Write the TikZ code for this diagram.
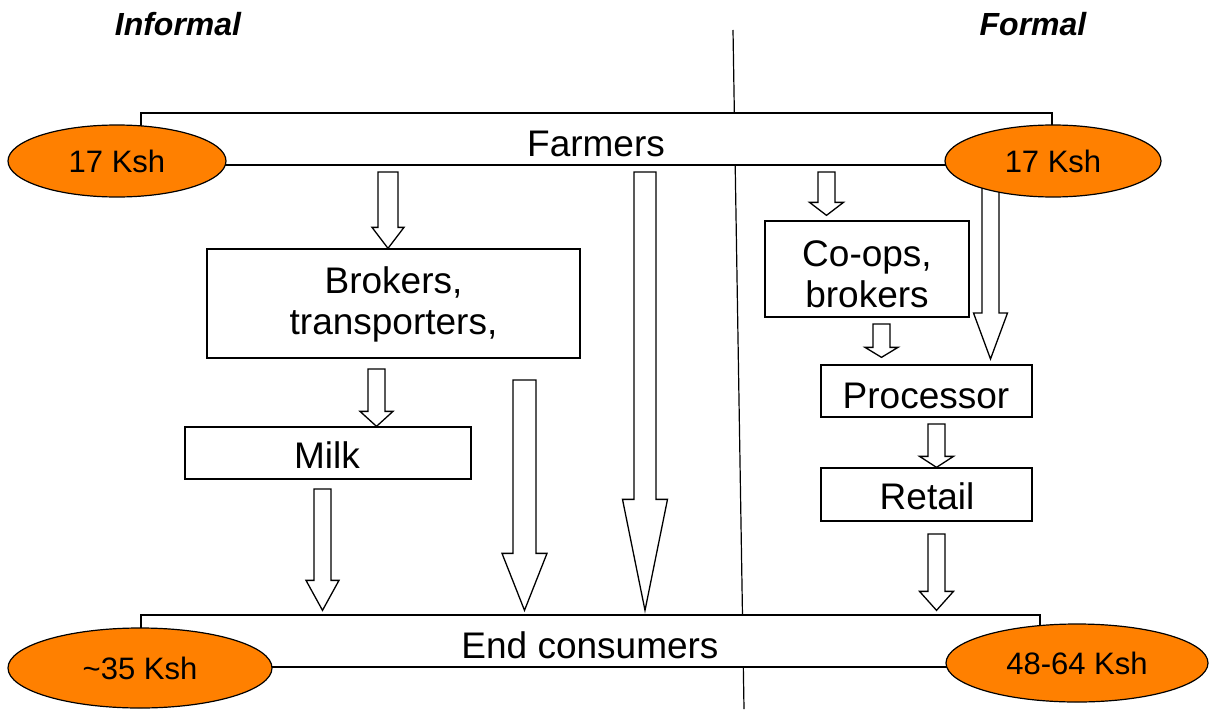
\documentclass[tikz,border=0pt]{standalone}
\usepackage{fontspec}
\setmainfont{Liberation Sans}
\usetikzlibrary{shapes.geometric,calc}
\definecolor{priceorange}{RGB}{255,128,0}
% block arrow: #1 start coordinate, #2 tip coordinate, #3 shaft half width, #4 head half width, #5 head length
\newcommand\blockarr[5]{%
  \draw[blockarrow] let \p1=(#1), \p2=(#2) in
    (\x2-#3,\y1) -- (\x2+#3,\y1) -- (\x2+#3,\y2+#5) -- (\x2+#4,\y2+#5) --
    (\x2,\y2) -- (\x2-#4,\y2+#5) -- (\x2-#3,\y2+#5) -- cycle;}
\begin{document}
\begin{tikzpicture}[x=1pt,y=-1pt,
  box/.style={draw, rectangle, fill=white, line width=1.3pt, inner sep=0pt},
  lbl/.style={inner sep=0pt, font=\fontsize{37}{41}\selectfont, align=center},
  plbl/.style={inner sep=0pt, font=\fontsize{31}{36}\selectfont},
  head/.style={inner sep=0pt, font=\fontsize{32}{36}\selectfont\bfseries\itshape},
  price/.style={ellipse, draw, fill=priceorange, line width=1.2pt, inner sep=0pt},
  blockarrow/.style={draw, fill=white, line width=1.3pt, line join=miter}]
\useasboundingbox (0,0) rectangle (1209,709);

% headings
\node[head] (informal) at (178,24) {Informal};
\node[head] (formal) at (1033,24) {Formal};

% divider
\coordinate (dtop) at (733,30);
\coordinate (dbot) at (744,709);
\draw[line width=1.2pt] (dtop) -- (dbot);

% main bands
\node[box, minimum width=911pt, minimum height=52pt] (farmers) at (596.5,139) {};
\node[box, minimum width=899pt, minimum height=52pt] (consumers) at (590.5,641) {};

% intermediate boxes
\node[box, minimum width=373pt, minimum height=109pt] (brokers) at (393.5,303.5) {};
\node[box, minimum width=286pt, minimum height=52pt] (milk) at (328,453) {};
\node[box, minimum width=204pt, minimum height=96pt] (coops) at (867,269) {};
\node[box, minimum width=211pt, minimum height=52pt] (processor) at (926.5,391) {};
\node[box, minimum width=211pt, minimum height=53pt] (retail) at (926.5,494.5) {};

% arrow coordinates
\coordinate (a1s) at (388,172);
\coordinate (a2s) at (376.5,369);
\coordinate (a3s) at (322.5,489);
\coordinate (a4s) at (524.5,380);
\coordinate (a5s) at (645,172);
\coordinate (a6s) at (826.5,172);
\coordinate (a7s) at (881.5,324);
\coordinate (a8s) at (990.5,172);
\coordinate (a9s) at (936.5,424);
\coordinate (a10s) at (936.5,534);
\coordinate (a3e) at ($(a3s |- consumers.north)+(0,-4)$);
\coordinate (a4e) at ($(a4s |- consumers.north)+(0,-4)$);
\coordinate (a5e) at ($(a5s |- consumers.north)+(0,-4)$);
\coordinate (a6e) at ($(a6s |- coops.north)+(0,-5)$);
\coordinate (a7e) at ($(a7s |- processor.north)+(0,-7)$);
\coordinate (a8e) at (990.5,359);
\coordinate (a10e) at ($(a10s |- consumers.north)+(0,-4)$);

\blockarr{a1s}{a1s |- brokers.north}{10pt}{16pt}{21pt}
\blockarr{a2s}{a2s |- milk.north}{8.5pt}{16.5pt}{15pt}
\blockarr{a3s}{a3e}{8.5pt}{16.5pt}{30pt}
\blockarr{a4s}{a4e}{11.5pt}{22.5pt}{57pt}
\blockarr{a5s}{a5e}{11pt}{22.5pt}{111pt}
\blockarr{a6s}{a6e}{8.5pt}{17pt}{13pt}
\blockarr{a7s}{a7e}{8.5pt}{16.5pt}{10pt}
\blockarr{a8s}{a8e}{8.5pt}{17pt}{46pt}
\blockarr{a9s}{a9s |- retail.north}{8.5pt}{17pt}{11pt}
\blockarr{a10s}{a10e}{8.5pt}{17pt}{19pt}

% price ellipses
\node[price, minimum width=218pt, minimum height=72pt] (pfarmL) at (117,161) {};
\node[price, minimum width=216pt, minimum height=72pt] (pfarmR) at (1053,161) {};
\node[price, minimum width=264pt, minimum height=80pt] (pconsL) at (140,668) {};
\node[price, minimum width=262pt, minimum height=78pt] (pconsR) at (1077,663) {};

% labels
\node[lbl] (farmerslbl) at (596,144) {Farmers};
\node[lbl] (consumerslbl) at (590,645) {End consumers};
\node[lbl, anchor=north] (brokerslbl) at (393.5,266) {\fontsize{37}{39}\selectfont Brokers,\\transporters,};
\node[lbl] (milklbl) at (327,455) {Milk};
\node[lbl, anchor=north] (coopslbl) at (867,240) {\fontsize{37}{44}\selectfont Co-ops,\\brokers};
\node[lbl] (processorlbl) at (926,396) {Processor};
\node[lbl] (retaillbl) at (927,496.5) {Retail};
\node[plbl] at (pfarmL) (pfarmLlbl) {17 Ksh};
\node[plbl] at (pfarmR) (pfarmRlbl) {17 Ksh};
\node[plbl] at (pconsL) (pconsLlbl) {\textasciitilde 35 Ksh};
\node[plbl] at ($(pconsR)+(0,0)$) (pconsRlbl) {48-64 Ksh};
\end{tikzpicture}
\end{document}
